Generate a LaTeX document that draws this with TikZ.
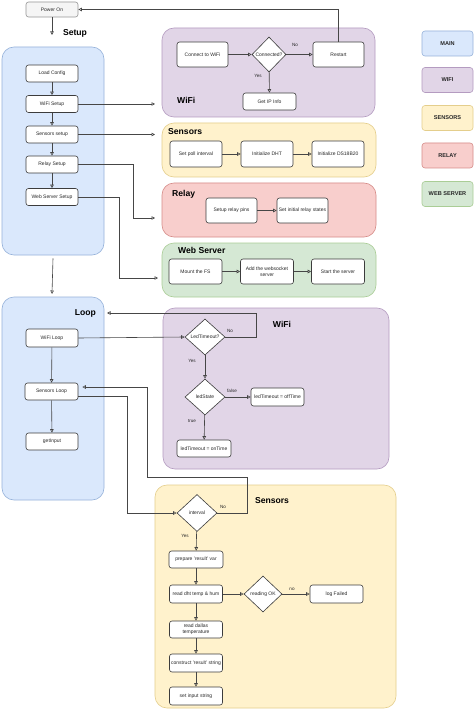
\documentclass[tikz,border=0pt]{standalone}
\usepackage{fontspec}
\setmainfont{Liberation Sans}
\usetikzlibrary{arrows.meta,shapes.geometric}
\definecolor{mainFill}{RGB}{218,232,252}
\definecolor{mainEdge}{RGB}{150,178,218}
\definecolor{wifiFill}{RGB}{225,213,231}
\definecolor{wifiEdge}{RGB}{180,155,192}
\definecolor{sensFill}{RGB}{255,242,204}
\definecolor{sensEdge}{RGB}{228,206,140}
\definecolor{relayFill}{RGB}{248,206,204}
\definecolor{relayEdge}{RGB}{214,140,136}
\definecolor{webFill}{RGB}{213,232,212}
\definecolor{webEdge}{RGB}{170,205,150}
\definecolor{powerFill}{RGB}{245,245,245}
\definecolor{powerEdge}{RGB}{150,150,150}
\definecolor{boxEdge}{RGB}{60,60,60}
\definecolor{boxText}{RGB}{40,40,40}
\definecolor{lineGrey}{RGB}{70,70,70}

\tikzset{
  procBox/.style={draw=boxEdge, fill=white, rounded corners=2.5pt, line width=0.6pt,
    minimum width=52pt, minimum height=17pt, inner sep=1pt, align=center,
    text=boxText, font=\fontsize{5}{6}\selectfont},
  decision/.style={diamond, draw=boxEdge, fill=white, line width=0.6pt, inner sep=0pt,
    aspect=1, minimum width=40pt, minimum height=36pt, text=boxText,
    font=\fontsize{5}{6}\selectfont},
  groupBox/.style={rounded corners=12pt, line width=0.6pt},
  groupTitle/.style={font=\fontsize{8.6}{10}\selectfont\bfseries, inner sep=0pt},
  edgeLabel/.style={font=\fontsize{4.6}{5}\selectfont, text=boxText, inner sep=0pt},
  legendBox/.style={rounded corners=3pt, line width=0.6pt, minimum width=51pt,
    minimum height=25pt, text=boxText, font=\fontsize{5.6}{6}\selectfont\bfseries},
  flow/.style={draw=lineGrey, line width=0.6pt, -{Triangle[open,length=3.5pt,width=3.5pt]}},
}

\begin{document}
\begin{tikzpicture}[x=1pt,y=-1pt]
  \useasboundingbox[fill=white] (0,0) rectangle (474,711);

  % group backgrounds
  \node[groupBox, fill=mainFill, draw=mainEdge, minimum width=102, minimum height=208] (setup) at (53,151) {};
  \node[groupBox, fill=wifiFill, draw=wifiEdge, minimum width=213, minimum height=89] (wifiGrp) at (268.5,72.5) {};
  \node[groupBox, fill=sensFill, draw=sensEdge, minimum width=214, minimum height=54] (sensGrp) at (269,150) {};
  \node[groupBox, fill=relayFill, draw=relayEdge, minimum width=214, minimum height=54] (relayGrp) at (269,210) {};
  \node[groupBox, fill=webFill, draw=webEdge, minimum width=214, minimum height=54] (webGrp) at (269,270) {};
  \node[groupBox, fill=mainFill, draw=mainEdge, minimum width=102, minimum height=203] (loop) at (53,398.5) {};
  \node[groupBox, fill=wifiFill, draw=wifiEdge, minimum width=226, minimum height=161] (wifiLoopGrp) at (276,388.5) {};
  \node[groupBox, fill=sensFill, draw=sensEdge, minimum width=241, minimum height=223] (sensLoopGrp) at (275.5,596.5) {};

  % titles
  \node[groupTitle] (setupTitle) at (75,33) {Setup};
  \node[groupTitle, anchor=west] (wifiTitle) at (177,100) {WiFi};
  \node[groupTitle, anchor=west] (sensTitle) at (168,132) {Sensors};
  \node[groupTitle, anchor=west] (relayTitle) at (172,194) {Relay};
  \node[groupTitle, anchor=west] (webTitle) at (178,250) {Web Server};
  \node[groupTitle, anchor=east] (loopTitle) at (96,313) {Loop};
  \node[groupTitle] (wifiLoopTitle) at (282,324) {WiFi};
  \node[groupTitle] (sensLoopTitle) at (272,501) {Sensors};

  % power on
  \node[procBox, fill=powerFill, draw=powerEdge, minimum height=15] (power) at (52,9.5) {Power On};

  % setup steps
  \node[procBox] (loadCfg) at (52,73.5) {Load Config};
  \node[procBox] (wifiSetup) at (52,104) {WiFi Setup};
  \node[procBox] (sensSetup) at (52,134.5) {Sensors setup};
  \node[procBox] (relaySetup) at (52,164.5) {Relay Setup};
  \node[procBox] (webSetup) at (52,197) {Web Server Setup};

  % wifi setup
  \node[procBox, minimum width=51, minimum height=25] (connWifi) at (202.5,54.5) {Connect to WiFi};
  \node[decision, minimum width=34, minimum height=35] (connected) at (269,54.5) {Connected?};
  \node[procBox, minimum width=51, minimum height=25] (restart) at (338.5,54.5) {Restart};
  \node[procBox, minimum width=53] (getIp) at (269.5,101.5) {Get IP Info};
  \node[edgeLabel] (noA) at (295,45) {No};
  \node[edgeLabel] (yesA) at (258,76) {Yes};

  % sensors setup
  \node[procBox, minimum height=26] (pollInt) at (196,154) {Set poll interval};
  \node[procBox, minimum height=26] (initDht) at (267,154) {Initialize DHT};
  \node[procBox, minimum height=26] (initDs) at (338,154) {Initialize DS18B20};

  % relay setup
  \node[procBox, minimum width=51, minimum height=25] (relayPins) at (231.5,210.5) {Setup relay pins};
  \node[procBox, minimum width=51, minimum height=25] (relayStates) at (302.5,210.5) {Set initial relay states};

  % web server setup
  \node[procBox, minimum width=53, minimum height=25] (mountFs) at (195.5,271.5) {Mount the FS};
  \node[procBox, minimum width=53, minimum height=25] (addWs) at (267,271.5) {Add the websocket\\server};
  \node[procBox, minimum width=53, minimum height=25] (startSrv) at (338,271.5) {Start the server};

  % loop steps
  \node[procBox, minimum height=18] (wifiLoop) at (52,338) {WiFi Loop};
  \node[procBox, minimum width=53] (sensLoop) at (51.5,391.5) {Sensors Loop};
  \node[procBox] (getInput) at (52,441.5) {getInput};

  % wifi loop
  \node[decision] (ledTo) at (205,337) {LedTimeout?};
  \node[decision] (ledState) at (205,397) {ledState};
  \node[procBox, minimum width=53, minimum height=18] (offTime) at (277.5,397) {ledTimeout = offTime};
  \node[procBox, minimum width=54] (onTime) at (204,448.5) {ledTimeout = onTime};
  \node[edgeLabel] (noB) at (230,331) {No};
  \node[edgeLabel] (yesB) at (192,361) {Yes};
  \node[edgeLabel] (falseB) at (232,391) {false};
  \node[edgeLabel] (trueB) at (192,421) {true};

  % sensors loop
  \node[decision, minimum height=37] (interval) at (197,513) {interval};
  \node[procBox, minimum width=54] (prepare) at (196,559.5) {prepare 'result' var};
  \node[procBox, minimum width=53, minimum height=18] (readDht) at (196,594) {read dht temp \& hum};
  \node[decision, minimum width=38] (readOk) at (263,594) {reading OK};
  \node[procBox, minimum width=53, minimum height=18] (logFailed) at (336.5,594) {log Failed};
  \node[procBox, minimum width=53] (readDallas) at (196,629.5) {read dallas\\temperature};
  \node[procBox, minimum width=53, minimum height=18] (construct) at (196,663) {construct 'result' string};
  \node[procBox, minimum width=53, minimum height=18] (setInput) at (196,696) {set input string};
  \node[edgeLabel] (noC) at (223,507) {No};
  \node[edgeLabel] (yesC) at (185,536) {Yes};
  \node[edgeLabel] (noD) at (292,589) {no};

  % legend
  \node[legendBox, fill=mainFill, draw=mainEdge] (legMain) at (447.5,43.5) {MAIN};
  \node[legendBox, fill=wifiFill, draw=wifiEdge] (legWifi) at (447.5,80) {WIFI};
  \node[legendBox, fill=sensFill, draw=sensEdge] (legSens) at (447.5,118) {SENSORS};
  \node[legendBox, fill=relayFill, draw=relayEdge] (legRelay) at (447.5,155.5) {RELAY};
  \node[legendBox, fill=webFill, draw=webEdge] (legWeb) at (447.5,194) {WEB SERVER};

  % loose ends
  \coordinate (setupIn) at (52,35);
  \coordinate (loopIn) at (52,294);
  \coordinate (wifiIn) at (155,104);
  \coordinate (sensIn) at (155,134.5);
  \coordinate (relayIn) at (155,218);
  \coordinate (webIn) at (158,278);
  \coordinate (loopBack) at (107,313);
  \coordinate (ledTurn) at (256,313);
  \coordinate (intNoA) at (247,477);
  \coordinate (intNoB) at (147,477);

  % setup flow
  \draw[flow] (power) -- (setupIn);
  \draw[flow] (loadCfg) -- (wifiSetup);
  \draw[flow] (wifiSetup) -- (sensSetup);
  \draw[flow] (sensSetup) -- (relaySetup);
  \draw[flow] (relaySetup) -- (webSetup);
  \draw[flow] (wifiSetup.east) -- (wifiIn);
  \draw[flow] (sensSetup.east) -- (sensIn);
  \draw[flow] (relaySetup.east) -- (133,164.5) |- (relayIn);
  \draw[flow] (webSetup.east) -- (119,197) |- (webIn);
  \draw[flow] (connWifi) -- (connected);
  \draw[flow] (connected) -- (restart);
  \draw[flow] (connected) -- (getIp);
  \draw[flow] (restart.north) |- (power.east);
  \draw[flow] (pollInt) -- (initDht);
  \draw[flow] (initDht) -- (initDs);
  \draw[flow] (relayPins) -- (relayStates);
  \draw[flow] (mountFs) -- (addWs);
  \draw[flow] (addWs) -- (startSrv);

  % loop flow
  \draw[flow] ([yshift=-3pt]setup.south) -- (loopIn);
  \draw[flow] (wifiLoop) -- (sensLoop);
  \draw[flow] (sensLoop) -- (getInput);
  \draw[flow] (wifiLoop.east) -- (ledTo.west);
  \draw[flow] (ledTo.east) -| (ledTurn) -- (loopBack);
  \draw[flow] (ledTo) -- (ledState);
  \draw[flow] (ledState) -- (offTime);
  \draw[flow] (ledState) -- (onTime);
  \draw[flow] ([yshift=-4.5pt]sensLoop.east) -- ++(49,0) |- (interval.west);
  \draw[flow, shorten >=4pt] (interval.east) -| (intNoA) -- (intNoB) |- ([yshift=4.5pt]sensLoop.east);
  \draw[flow] (interval) -- (prepare);
  \draw[flow] (prepare) -- (readDht);
  \draw[flow] (readDht) -- (readOk);
  \draw[flow] (readOk) -- (logFailed);
  \draw[flow] (readDht) -- (readDallas);
  \draw[flow] (readDallas) -- (construct);
  \draw[flow] (construct) -- (setInput);
\end{tikzpicture}
\end{document}
